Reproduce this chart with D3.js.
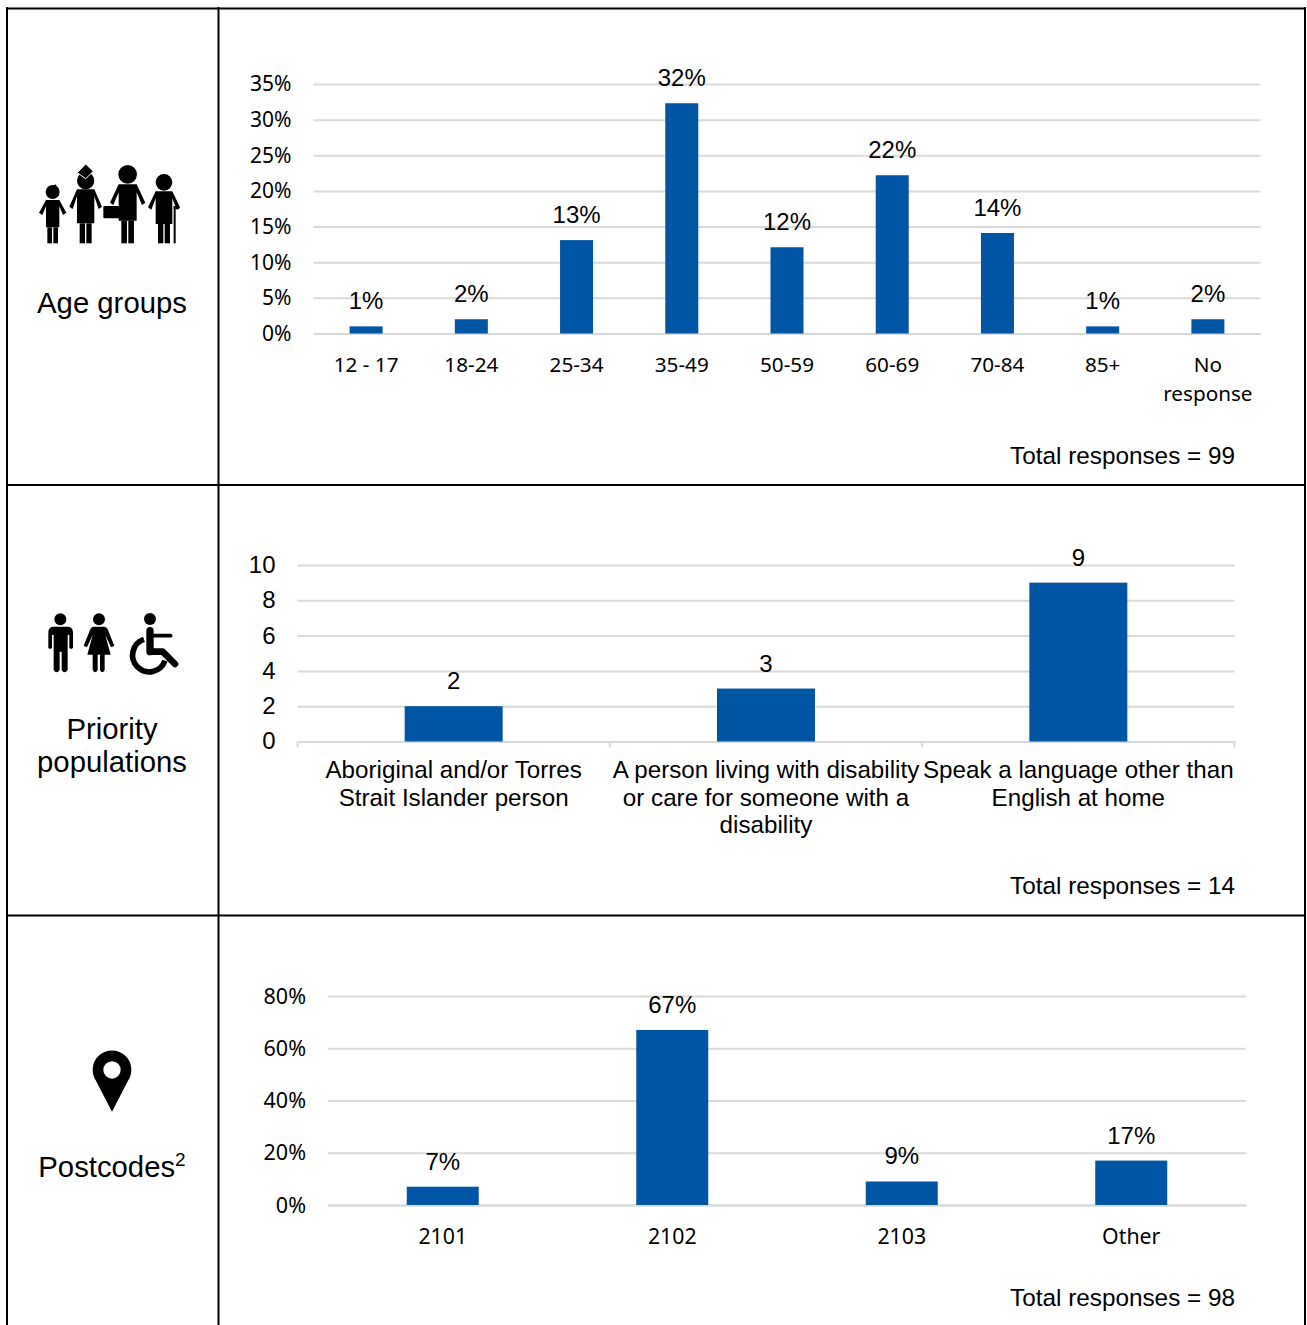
<!DOCTYPE html>
<html>
<head>
<meta charset="utf-8">
<script src="https://cdn.jsdelivr.net/npm/d3@7"></script>
<style>
  html, body { margin: 0; padding: 0; background: #fff; }
  svg { display: block; }
  text { fill: #000; }
</style>
</head>
<body>
<div id="my_dataviz"></div>
<script>
// chart data
const ageGroups = ["12 - 17", "18-24", "25-34", "35-49", "50-59", "60-69", "70-84", "85+", "No\nresponse"]
const ageValues = [1.0, 2.0, 13.1, 32.3, 12.1, 22.2, 14.1, 1.0, 2.0]
const ageTicks = [0, 5, 10, 15, 20, 25, 30, 35]

const priorityGroups = ["Aboriginal and/or Torres\nStrait Islander person",
  "A person living with disability\nor care for someone with a\ndisability",
  "Speak a language other than\nEnglish at home"]
const priorityValues = [2, 3, 9]
const priorityTicks = [0, 2, 4, 6, 8, 10]

const postcodeGroups = ["2101", "2102", "2103", "Other"]
const postcodeValues = [7, 67, 9, 17]
const postcodeTicks = [0, 20, 40, 60, 80]

const arial = "'Liberation Sans', Arial, sans-serif"
const calibri = "'Noto Sans', sans-serif"
const blue = "#0055a5"
const grid = "#d9d9d9"

const svg = d3.select("#my_dataviz")
  .append("svg")
    .attr("width", 1307)
    .attr("height", 1325)

// table frame, it runs off the bottom of the page
const frame = svg.append("g").attr("stroke", "#000").attr("stroke-width", 2)
frame.append("line").attr("x1", 7).attr("x2", 7).attr("y1", 7).attr("y2", 1325)
frame.append("line").attr("x1", 218.5).attr("x2", 218.5).attr("y1", 7).attr("y2", 1325)
frame.append("line").attr("x1", 1305).attr("x2", 1305).attr("y1", 7).attr("y2", 1325)
frame.append("line").attr("x1", 6).attr("x2", 1306).attr("y1", 8.5).attr("y2", 8.5)
frame.append("line").attr("x1", 6).attr("x2", 1306).attr("y1", 485).attr("y2", 485)
frame.append("line").attr("x1", 6).attr("x2", 1306).attr("y1", 915.5).attr("y2", 915.5)

// one bar panel
function barPanel(o) {
  const x = d3.scaleBand().domain(o.groups).range([o.left, o.right])
  const y = d3.scaleLinear().domain([0, o.max]).range([o.bottom, o.top])
  const g = svg.append("g")

  // y axis with the gridlines
  const yAxis = g.append("g")
    .attr("transform", `translate(${o.left},0)`)
    .call(d3.axisLeft(y).tickValues(o.ticks).tickFormat(o.yFormat)
      .tickSize(o.left - o.right).tickPadding(22))
  yAxis.select(".domain").remove()
  yAxis.selectAll("line").attr("stroke", grid).attr("stroke-width", 2)
  yAxis.selectAll("text")
    .style("font", `${o.yFont}`)
    .attr("dy", o.yDy)

  // x axis
  const xAxis = g.append("g")
    .attr("transform", `translate(0,${o.bottom})`)
    .call(d3.axisBottom(x).tickSize(0).tickFormat(""))
  xAxis.select(".domain").attr("stroke", grid).attr("stroke-width", 2)
  xAxis.selectAll("text").remove()

  // little ticks between the categories
  if (o.catTicks) {
    const edges = o.groups.map(d => x(d)).concat([o.right])
    g.selectAll(".cat-tick").data(edges).join("line")
      .attr("class", "cat-tick")
      .attr("x1", d => d).attr("x2", d => d)
      .attr("y1", o.bottom).attr("y2", o.bottom + 6)
      .attr("stroke", grid).attr("stroke-width", 2)
  }

  // category labels, can be on several lines
  g.selectAll(".cat").data(o.groups).join("text")
    .attr("class", "cat")
    .attr("text-anchor", "middle")
    .style("font", o.xFont)
    .attr("y", o.xLabelY)
    .each(function(d) {
      const el = d3.select(this)
      d.split("\n").forEach((line, i) => {
        el.append("tspan")
          .attr("x", x(d) + x.bandwidth() / 2)
          .attr("y", o.xLabelY + i * o.xLineStep)
          .text(line)
      })
    })

  // bars
  g.selectAll(".bar").data(o.values).join("rect")
    .attr("class", "bar")
    .attr("x", (d, i) => x(o.groups[i]) + x.bandwidth() / 2 - o.barWidth / 2)
    .attr("y", d => y(d))
    .attr("width", o.barWidth)
    .attr("height", d => o.bottom - y(d))
    .attr("fill", blue)

  // value labels
  g.selectAll(".val").data(o.values).join("text")
    .attr("class", "val")
    .attr("text-anchor", "middle")
    .style("font", `24px ${arial}`)
    .attr("x", (d, i) => x(o.groups[i]) + x.bandwidth() / 2)
    .attr("y", d => y(d) - 17)
    .text(o.valFormat)

  // total in the corner
  g.append("text")
    .attr("x", 1235).attr("y", o.totalY)
    .attr("text-anchor", "end")
    .style("font", `24.3px ${arial}`)
    .text(o.total)
}

const pct = d => d3.format(".0f")(d) + "%"

barPanel({groups: ageGroups, values: ageValues, ticks: ageTicks, max: 35,
  left: 313.5, right: 1260.5, top: 84, bottom: 333.5, barWidth: 33,
  yFormat: pct, valFormat: pct, yFont: `21px ${calibri}`, yDy: "0.33em",
  xFont: `20.7px ${calibri}`, xLabelY: 372, xLineStep: 29,
  totalY: 464, total: "Total responses = 99"})

barPanel({groups: priorityGroups, values: priorityValues, ticks: priorityTicks, max: 10,
  left: 297.5, right: 1234.5, top: 565, bottom: 741.5, barWidth: 98, catTicks: true,
  yFormat: d => d, valFormat: d => d, yFont: `24px ${arial}`, yDy: "0.31em",
  xFont: `24.2px ${arial}`, xLabelY: 778, xLineStep: 27.5,
  totalY: 894, total: "Total responses = 14"})

barPanel({groups: postcodeGroups, values: postcodeValues, ticks: postcodeTicks, max: 80,
  left: 328, right: 1246, top: 996, bottom: 1205, barWidth: 72,
  yFormat: pct, valFormat: pct, yFont: `21.5px ${calibri}`, yDy: "0.33em",
  xFont: `21.3px ${calibri}`, xLabelY: 1244, xLineStep: 29,
  totalY: 1306, total: "Total responses = 98"})

// row titles
function rowTitle(lines, ys) {
  lines.forEach((t, i) => {
    svg.append("text")
      .attr("x", 112).attr("y", ys[i])
      .attr("text-anchor", "middle")
      .style("font", `29.3px ${arial}`)
      .text(t)
  })
}
rowTitle(["Age groups"], [313])
rowTitle(["Priority", "populations"], [739, 772])
const postcodes = svg.append("text")
  .attr("x", 112).attr("y", 1177)
  .attr("text-anchor", "middle")
  .style("font", `29.3px ${arial}`)
postcodes.append("tspan").text("Postcodes")
postcodes.append("tspan").attr("dy", -11).style("font-size", "19px").text("2")

// icons, drawn in the coordinates of a 3x crop and scaled down
function person(g, o) {
  g.append("circle").attr("cx", o.cx).attr("cy", o.hy).attr("r", o.hr)
  const a = o.cx - o.w, b = o.cx + o.w, t = o.top, e = o.elbow, s = o.skirt
  g.append("path").attr("d",
    `M${a},${t} L${b},${t} L${b + o.arm},${e} L${b + o.arm - 10},${e + 7} L${b},${t + o.arm * 0.9} ` +
    `L${b},${s} L${a},${s} L${a},${t + o.arm * 0.9} L${a - o.arm + 10},${e + 7} L${a - o.arm},${e} Z`)
  g.append("rect").attr("x", o.cx - o.leg - 2).attr("y", s).attr("width", o.leg).attr("height", 280 - s)
  g.append("rect").attr("x", o.cx + 2).attr("y", s).attr("width", o.leg).attr("height", 280 - s)
}

const ageIcon = svg.append("g").attr("transform", "translate(20,150) scale(0.3333)").attr("fill", "#000")
person(ageIcon, {cx: 98, hy: 126, hr: 21, w: 20, top: 150, arm: 21, elbow: 188, skirt: 232, leg: 14})
ageIcon.append("path").attr("d", "M84,114 L108,103 L112,118 Z")
person(ageIcon, {cx: 197, hy: 92, hr: 26, w: 26, top: 118, arm: 23, elbow: 170, skirt: 220, leg: 16})
ageIcon.append("path").attr("d", "M197,42 L220,64 L197,86 L172,68 Z").attr("stroke", "#fff").attr("stroke-width", 3)
person(ageIcon, {cx: 323, hy: 73, hr: 28, w: 27, top: 103, arm: 26, elbow: 158, skirt: 212, leg: 17})
ageIcon.append("rect").attr("x", 250).attr("y", 168).attr("width", 48).attr("height", 37).attr("rx", 4)
person(ageIcon, {cx: 432, hy: 97, hr: 25, w: 25, top: 124, arm: 23, elbow: 172, skirt: 222, leg: 16})
ageIcon.append("rect").attr("x", 461).attr("y", 168).attr("width", 6).attr("height", 112)
ageIcon.append("path").attr("d", "M461,168 L480,172 L476,178 L461,176 Z")

const priorityIcon = svg.append("g").attr("transform", "translate(20,600) scale(0.3333)").attr("fill", "#000")
priorityIcon.append("circle").attr("cx", 121).attr("cy", 58).attr("r", 18)
priorityIcon.append("path").attr("d",
  "M85,97 Q85,80 102,80 L142,80 Q159,80 159,97 L159,143 Q153,150 148,143 L148,105 L143,105 L143,210 " +
  "Q134,224 125,210 L125,155 L119,155 L119,210 Q110,224 101,210 L101,105 L96,105 L96,143 Q91,150 85,143 Z")
priorityIcon.append("circle").attr("cx", 237).attr("cy", 58).attr("r", 18)
priorityIcon.append("path").attr("d",
  "M222,80 L252,80 Q262,80 266,95 L283,137 L273,142 L256,105 L272,164 L254,164 L254,210 Q247,224 240,210 " +
  "L240,164 L233,164 L233,210 Q226,224 218,210 L218,164 L202,164 L218,105 L201,142 L191,137 L208,95 Q212,80 222,80 Z")
priorityIcon.append("circle").attr("cx", 390).attr("cy", 57).attr("r", 18)
const chair = priorityIcon.append("g").attr("fill", "none").attr("stroke", "#000").attr("stroke-linecap", "round")
chair.append("path").attr("d", "M390,92 L390,155").attr("stroke-width", 22)
chair.append("path").attr("d", "M390,107 L452,107").attr("stroke-width", 11)
chair.append("path").attr("d", "M392,155 L428,155 L465,192").attr("stroke-width", 20).attr("stroke-linejoin", "round")
chair.append("path").attr("d", "M372,118 A50,50 0 1 0 435,182").attr("stroke-width", 17).attr("stroke-linecap", "butt")

const pin = svg.append("g").attr("transform", "translate(20,1040) scale(0.3333)")
pin.append("path").attr("d", "M276,215 L228,122 A58,58 0 1 1 324,122 Z").attr("fill", "#000")
pin.append("circle").attr("cx", 276).attr("cy", 90).attr("r", 26).attr("fill", "#fff")
</script>
</body>
</html>
